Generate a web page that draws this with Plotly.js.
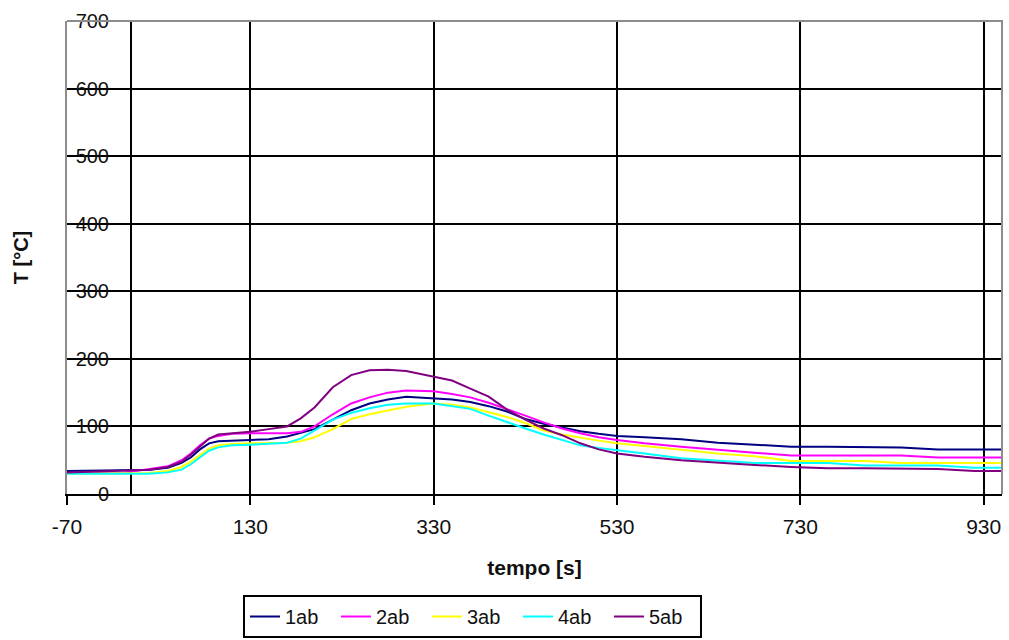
<!DOCTYPE html>
<html>
<head>
<meta charset="utf-8">
<script src="https://cdn.plot.ly/plotly-3.0.1.min.js"></script>
<style>
  html, body { margin: 0; padding: 0; background: #fff; }
  #chart { width: 1009px; height: 640px; }
</style>
</head>
<body>
<div id="chart"></div>
<script>
// time [s]
const time = [-70, -40, -10, 20, 40, 55, 65, 75, 85, 95,
              110, 130, 150, 170, 185, 200, 220, 240, 260, 280,
              300, 330, 350, 370, 390, 410, 430, 450, 470, 490,
              510, 530, 560, 600, 640, 680, 720, 760, 800, 840,
              880, 920, 950];

const s1ab = [34, 34, 35, 36, 39, 46, 54, 66, 75, 78,
              79, 80, 81, 85, 90, 96, 110, 124, 134, 140,
              144, 142, 140, 136, 130, 122, 111, 104, 98, 93,
              89, 86, 84, 81, 76, 73, 70, 70, 69, 69,
              66, 66, 66];

const s2ab = [31, 31, 31, 37, 41, 50, 60, 72, 82, 86,
              89, 90, 90, 90, 92, 100, 118, 134, 143, 150,
              153, 152, 148, 143, 135, 126, 116, 106, 97, 90,
              84, 80, 75, 70, 65, 61, 57, 57, 57, 57,
              54, 54, 54];

const s3ab = [30, 30, 30, 31, 34, 40, 48, 58, 67, 72,
              74, 75, 75, 76, 78, 84, 96, 111, 118, 124,
              129, 134, 132, 128, 121, 114, 105, 94, 88, 83,
              79, 75, 71, 65, 60, 56, 49, 49, 49, 46,
              46, 46, 46];

const s4ab = [30, 30, 30, 30, 32, 36, 44, 54, 64, 69,
              72, 73, 74, 76, 82, 94, 110, 120, 127, 132,
              134, 134, 130, 126, 116, 106, 97, 88, 80, 72,
              68, 65, 60, 53, 50, 46, 46, 46, 42, 42,
              42, 39, 39];

const s5ab = [32, 33, 34, 36, 40, 48, 58, 70, 82, 88,
              90, 92, 96, 100, 112, 128, 158, 176, 183, 184,
              182, 174, 168, 156, 144, 125, 110, 97, 87, 75,
              66, 60, 55, 50, 46, 43, 40, 38, 38, 38,
              37, 34, 34];

const seriesNames = ['1ab', '2ab', '3ab', '4ab', '5ab'];
const seriesColors = ['#000080', '#FF00FF', '#FFFF00', '#00FFFF', '#800080'];
const seriesValues = [s1ab, s2ab, s3ab, s4ab, s5ab];

const xTickVals = [-70, 130, 330, 530, 730, 930];
const xExtraGrid = [0];
const yTickVals = [0, 100, 200, 300, 400, 500, 600, 700];

const traces = seriesNames.map((name, i) => ({
  type: 'scatter',
  mode: 'lines',
  name: name,
  x: time,
  y: seriesValues[i],
  line: { color: seriesColors[i], width: 2 }
}));

const font = 'Liberation Sans, Arial, sans-serif';

const layout = {
  width: 1009,
  height: 640,
  margin: { l: 67, r: 7, t: 21, b: 146, autoexpand: false },
  paper_bgcolor: '#ffffff',
  plot_bgcolor: '#ffffff',
  font: { family: font, size: 20, color: '#111' },
  showlegend: true,
  legend: {
    orientation: 'h',
    xref: 'container', yref: 'container',
    x: 0.2408, xanchor: 'left',
    y: 0.0703, yanchor: 'top',
    bordercolor: '#000', borderwidth: 2,
    font: { family: font, size: 20, color: '#111' },
    entrywidth: 46,
    entrywidthmode: 'pixels',
    itemclick: false
  },
  xaxis: {
    range: [-70, 950],
    tickmode: 'array',
    tickvals: xTickVals,
    ticktext: xTickVals.map(String),
    ticks: 'outside', ticklen: 9, tickwidth: 2, tickcolor: '#000',
    ticklabelstandoff: 4,
    showgrid: true, gridcolor: '#000', gridwidth: 2,
    minor: { tickmode: 'array', tickvals: xExtraGrid, showgrid: true, gridcolor: '#000', gridwidth: 2, ticks: '' },
    zeroline: false,
    showline: true, linecolor: '#000', linewidth: 2,
    tickfont: { family: font, size: 21, color: '#111' },
    title: { text: '<b>tempo [s]</b>', font: { family: font, size: 21, color: '#111' }, standoff: 23 },
    automargin: false
  },
  yaxis: {
    range: [0, 700],
    tickmode: 'array',
    tickvals: yTickVals,
    ticktext: yTickVals.map(String),
    ticks: '',
    ticklabelstandoff: -48,
    showgrid: true, gridcolor: '#000', gridwidth: 2,
    zeroline: false,
    showline: true, linecolor: '#8c8c8c', linewidth: 2,
    tickfont: { family: font, size: 20, color: '#111' },
    title: { text: '<b>T [°C]</b>', font: { family: font, size: 20, color: '#111' }, standoff: 42 },
    automargin: false
  },
  shapes: [
    {
      type: 'path', xref: 'paper', yref: 'paper', layer: 'above',
      path: 'M 0,1 L 1,1 L 1,0',
      line: { color: '#8c8c8c', width: 2 }
    }
  ]
};

Plotly.newPlot('chart', traces, layout, { displayModeBar: false, staticPlot: true });
</script>
</body>
</html>
